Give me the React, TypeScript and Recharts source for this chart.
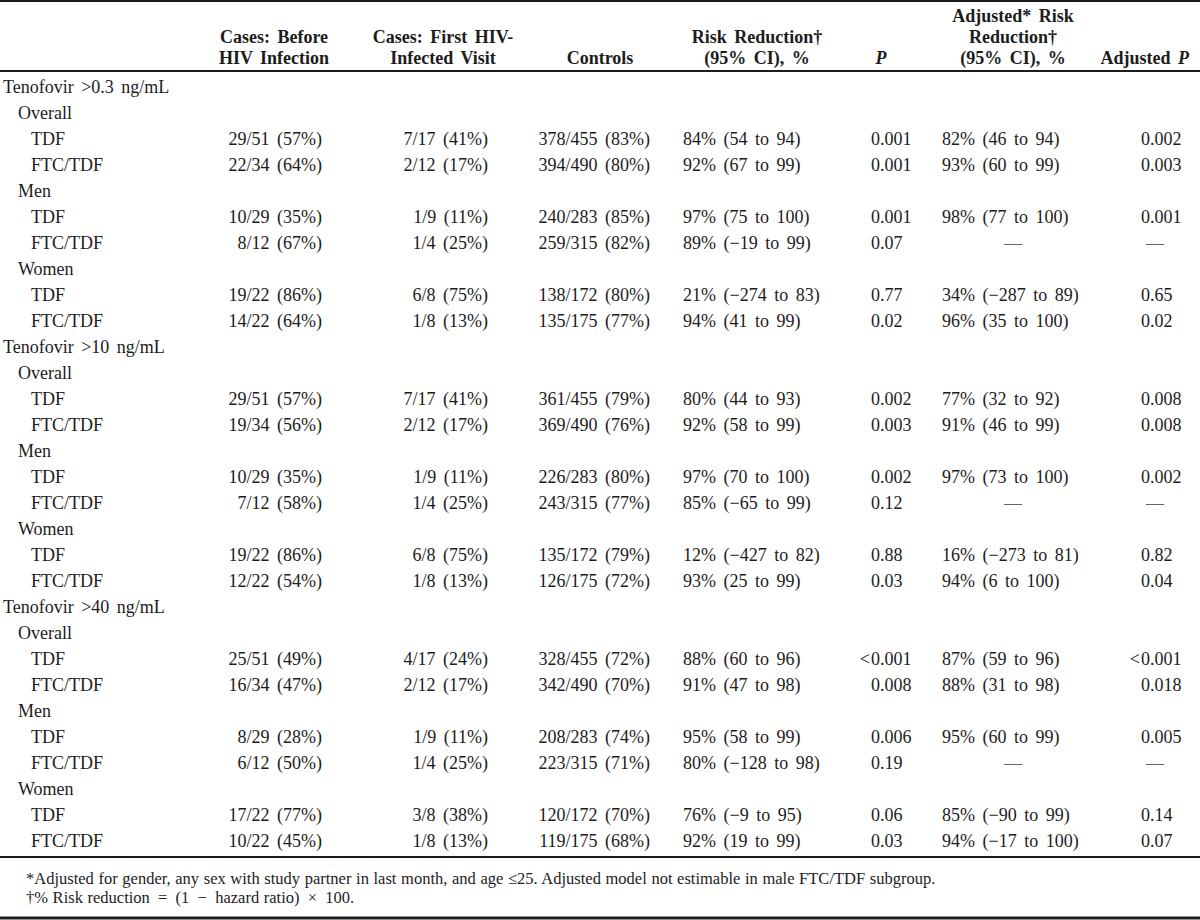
import { ScatterChart, Scatter, XAxis, YAxis, Customized } from 'recharts';

const thresholds = ['Tenofovir >0.3 ng/mL', 'Tenofovir >10 ng/mL', 'Tenofovir >40 ng/mL'];
const groups = ['Overall', 'Men', 'Women'];
const regimens = ['TDF', 'FTC/TDF'];

const casesBefore = [
  '29/51 (57%)', '22/34 (64%)', '10/29 (35%)', '8/12 (67%)', '19/22 (86%)', '14/22 (64%)',
  '29/51 (57%)', '19/34 (56%)', '10/29 (35%)', '7/12 (58%)', '19/22 (86%)', '12/22 (54%)',
  '25/51 (49%)', '16/34 (47%)', '8/29 (28%)', '6/12 (50%)', '17/22 (77%)', '10/22 (45%)',
];
const casesFirstVisit = [
  '7/17 (41%)', '2/12 (17%)', '1/9 (11%)', '1/4 (25%)', '6/8 (75%)', '1/8 (13%)',
  '7/17 (41%)', '2/12 (17%)', '1/9 (11%)', '1/4 (25%)', '6/8 (75%)', '1/8 (13%)',
  '4/17 (24%)', '2/12 (17%)', '1/9 (11%)', '1/4 (25%)', '3/8 (38%)', '1/8 (13%)',
];
const controls = [
  '378/455 (83%)', '394/490 (80%)', '240/283 (85%)', '259/315 (82%)', '138/172 (80%)', '135/175 (77%)',
  '361/455 (79%)', '369/490 (76%)', '226/283 (80%)', '243/315 (77%)', '135/172 (79%)', '126/175 (72%)',
  '328/455 (72%)', '342/490 (70%)', '208/283 (74%)', '223/315 (71%)', '120/172 (70%)', '119/175 (68%)',
];
const riskReduction = [
  '84% (54 to 94)', '92% (67 to 99)', '97% (75 to 100)', '89% (\u221219 to 99)', '21% (\u2212274 to 83)', '94% (41 to 99)',
  '80% (44 to 93)', '92% (58 to 99)', '97% (70 to 100)', '85% (\u221265 to 99)', '12% (\u2212427 to 82)', '93% (25 to 99)',
  '88% (60 to 96)', '91% (47 to 98)', '95% (58 to 99)', '80% (\u2212128 to 98)', '76% (\u22129 to 95)', '92% (19 to 99)',
];
const pValues = [
  '0.001', '0.001', '0.001', '0.07', '0.77', '0.02',
  '0.002', '0.003', '0.002', '0.12', '0.88', '0.03',
  '<0.001', '0.008', '0.006', '0.19', '0.06', '0.03',
];
const adjRiskReduction = [
  '82% (46 to 94)', '93% (60 to 99)', '98% (77 to 100)', '\u2014', '34% (\u2212287 to 89)', '96% (35 to 100)',
  '77% (32 to 92)', '91% (46 to 99)', '97% (73 to 100)', '\u2014', '16% (\u2212273 to 81)', '94% (6 to 100)',
  '87% (59 to 96)', '88% (31 to 98)', '95% (60 to 99)', '\u2014', '85% (\u221290 to 99)', '94% (\u221217 to 100)',
];
const adjPValues = [
  '0.002', '0.003', '0.001', '\u2014', '0.65', '0.02',
  '0.008', '0.008', '0.002', '\u2014', '0.82', '0.04',
  '<0.001', '0.018', '0.005', '\u2014', '0.14', '0.07',
];

const footnotes = [
  '*Adjusted for gender, any sex with study partner in last month, and age \u226425. Adjusted model not estimable in male FTC/TDF subgroup.',
  '\u2020% Risk reduction\u2002=\u2002(1\u2002\u2212\u2002hazard ratio)\u2002\u00d7\u2002100.',
];

type Row = { key: string; label: string; level: number; anchor: number; idx: number | null };

const rows: Row[] = [];
let d = 0;
thresholds.forEach((t, ti) => {
  rows.push({ key: `t${ti}`, label: t, level: 0, anchor: 0, idx: null });
  groups.forEach((g, gi) => {
    rows.push({ key: `t${ti}g${gi}`, label: g, level: 1, anchor: 0, idx: null });
    regimens.forEach((r, ri) => {
      rows.push({ key: `t${ti}g${gi}r${ri}`, label: r, level: 2, anchor: 0, idx: d++ });
    });
  });
});

const FONT = '"Liberation Serif", "Times New Roman", serif';
const INK = '#1c1c1c';
const INDENT = [3, 18, 31];

// column anchors
const COL = {
  beforeRight: 322,
  firstRight: 488,
  controlsRight: 650,
  riskLeft: 683,
  pLeft: 871,
  adjRiskLeft: 942,
  adjRiskDash: 1013,
  adjPLeft: 1141,
  adjPDash: 1155,
};

function PValue({ x, y, v }: { x: number; y: number; v: string }) {
  if (v.startsWith('<')) {
    return (
      <>
        <text x={x - 1} y={y} dy="0.35em" textAnchor="end">{'<'}</text>
        <text x={x} y={y} dy="0.35em">{v.slice(1)}</text>
      </>
    );
  }
  return <text x={x} y={y} dy="0.35em">{v}</text>;
}

function RowShape(props: any) {
  const { cy, payload } = props;
  const r = payload as Row;
  const i = r.idx;
  return (
    <g fontFamily={FONT} fontSize={18} fill={INK} style={{ wordSpacing: 3 }}>
      <text x={INDENT[r.level]} y={cy} dy="0.35em">{r.label}</text>
      {i !== null && (
        <>
          <text x={COL.beforeRight} y={cy} dy="0.35em" textAnchor="end">{casesBefore[i]}</text>
          <text x={COL.firstRight} y={cy} dy="0.35em" textAnchor="end">{casesFirstVisit[i]}</text>
          <text x={COL.controlsRight} y={cy} dy="0.35em" textAnchor="end">{controls[i]}</text>
          <text x={COL.riskLeft} y={cy} dy="0.35em">{riskReduction[i]}</text>
          <PValue x={COL.pLeft} y={cy} v={pValues[i]} />
          {adjRiskReduction[i] === '\u2014' ? (
            <text x={COL.adjRiskDash} y={cy} dy="0.35em" textAnchor="middle" fill="#666">{'\u2014'}</text>
          ) : (
            <text x={COL.adjRiskLeft} y={cy} dy="0.35em">{adjRiskReduction[i]}</text>
          )}
          {adjPValues[i] === '\u2014' ? (
            <text x={COL.adjPDash} y={cy} dy="0.35em" textAnchor="middle" fill="#666">{'\u2014'}</text>
          ) : (
            <PValue x={COL.adjPLeft} y={cy} v={adjPValues[i]} />
          )}
        </>
      )}
    </g>
  );
}

function Frame() {
  const hy = [16, 37, 58];
  const H = (x: number, y: number, s: any, anchor: 'middle' | 'end' = 'middle') => (
    <text x={x} y={y} dy="0.35em" textAnchor={anchor}>{s}</text>
  );
  return (
    <g>
      <line x1={0} x2={1200} y1={1} y2={1} stroke={INK} strokeWidth={2} />
      <line x1={0} x2={1200} y1={71} y2={71} stroke={INK} strokeWidth={2} />
      <line x1={0} x2={1200} y1={857} y2={857} stroke={INK} strokeWidth={2} />
      <line x1={0} x2={1200} y1={918} y2={918} stroke={INK} strokeWidth={3} />
      <g fontFamily={FONT} fontSize={18} fontWeight="bold" fill={INK} style={{ wordSpacing: 3 }}>
        {H(274, hy[1], 'Cases: Before')}
        {H(274, hy[2], 'HIV Infection')}
        {H(443, hy[1], 'Cases: First HIV-')}
        {H(443, hy[2], 'Infected Visit')}
        {H(600, hy[2], 'Controls')}
        {H(757, hy[1], 'Risk Reduction\u2020')}
        {H(757, hy[2], '(95% CI), %')}
        {H(881, hy[2], <tspan fontStyle="italic">P</tspan>)}
        {H(1013, hy[0], 'Adjusted* Risk')}
        {H(1013, hy[1], 'Reduction\u2020')}
        {H(1013, hy[2], '(95% CI), %')}
        {H(1189, hy[2], <>Adjusted <tspan fontStyle="italic">P</tspan></>, 'end')}
      </g>
      <g fontFamily={FONT} fontSize={16.5} fill={INK} style={{ wordSpacing: 0.5 }}>
        <text x={26} y={878} dy="0.35em">{footnotes[0]}</text>
        <text x={26} y={897} dy="0.35em">{footnotes[1]}</text>
      </g>
    </g>
  );
}

export default function App() {
  return (
    <div style={{ position: 'absolute', left: 0, top: 0, width: 1200, height: 920, background: '#fff' }}>
      <ScatterChart width={1200} height={920} margin={{ top: 73.5, right: 0, bottom: 66.5, left: 0 }}>
        <XAxis type="number" dataKey="anchor" domain={[0, 1]} hide />
        <YAxis type="category" dataKey="key" hide width={0} reversed allowDuplicatedCategory={false} />
        <Customized component={Frame} />
        <Scatter data={rows} shape={RowShape} isAnimationActive={false} />
      </ScatterChart>
    </div>
  );
}
